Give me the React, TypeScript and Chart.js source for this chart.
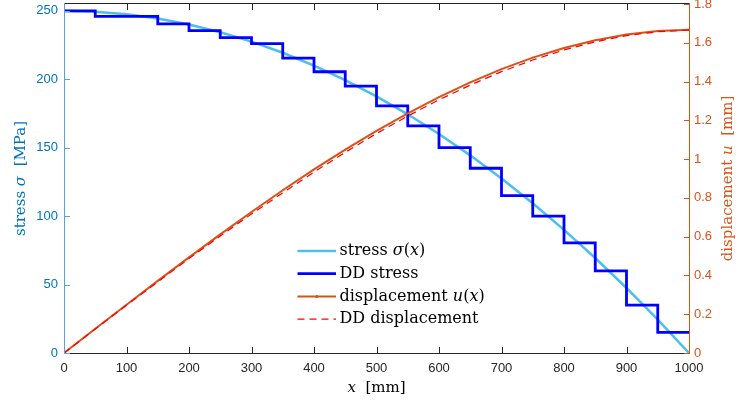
import React, { useEffect, useRef } from "react";
import { Chart, registerables } from "chart.js";

Chart.register(...registerables);

// ---------- data ----------
const xNodes = [0, 50, 100, 150, 200, 250, 300, 350, 400, 450, 500, 550, 600, 650, 700, 750, 800, 850, 900, 950, 1000];

// analytical stress sigma(x) [MPa]
const stressCurve = [250, 249.4, 247.5, 244.4, 240, 234.4, 227.5, 219.4, 210, 199.4, 187.5, 174.4, 160, 144.4, 127.5, 109.4, 90, 69.4, 47.5, 24.4, 0];

// data-driven (DD) stress, one value per element starting at each node (last repeats)
const ddStress = [250, 246, 246, 240.5, 235.5, 230.5, 226, 215.5, 205.5, 195, 180.5, 166, 150, 135, 115, 100, 80.5, 60, 35, 15, 15];

// displacement u(x) [mm]
const displacement = [0, 0.1249, 0.2492, 0.3722, 0.4933, 0.612, 0.7275, 0.8393, 0.9467, 1.0491, 1.1458, 1.2364, 1.32, 1.3962, 1.4642, 1.5234, 1.5733, 1.6133, 1.6425, 1.6604, 1.6667];

// DD displacement [mm]
const ddDisplacement = [0, 0.1235, 0.246, 0.367, 0.487, 0.603, 0.717, 0.826, 0.933, 1.035, 1.132, 1.222, 1.306, 1.382, 1.451, 1.511, 1.563, 1.605, 1.637, 1.657, 1.665];

const xTicks = [0, 100, 200, 300, 400, 500, 600, 700, 800, 900, 1000];
const stressTicks = [0, 50, 100, 150, 200, 250];
const dispTicks = [0, 0.2, 0.4, 0.6, 0.8, 1, 1.2, 1.4, 1.6, 1.8];

type Seg = [string, boolean];
const legendLabels: Seg[][] = [
  [["stress ", false], ["σ", true], ["(", false], ["x", true], [")", false]],
  [["DD stress", false]],
  [["displacement ", false], ["u", true], ["(", false], ["x", true], [")", false]],
  [["DD displacement", false]],
];
const leftTitle: Seg[] = [["stress ", false], ["σ", true], ["  [MPa]", false]];
const rightTitle: Seg[] = [["displacement ", false], ["u", true], ["  [mm]", false]];
const xTitle: Seg[] = [["x", true], ["  [mm]", false]];

// ---------- styles ----------
const BLUE_AXIS = "#0072BD";
const BLUE_AXIS_LINE = "#5aa3d8";
const ORANGE_AXIS = "#D95319";
const DARK = "#262626";
const SERIF = '"DejaVu Serif", "Liberation Serif", serif';
const SANS = '"Liberation Sans", Arial, sans-serif';
const TICK = 6;

function segFont(italic: boolean, size: number) {
  return `${italic ? "italic " : ""}${size}px ${SERIF}`;
}

function richWidth(ctx: CanvasRenderingContext2D, segs: Seg[], size: number) {
  let w = 0;
  for (const [t, it] of segs) {
    ctx.font = segFont(it, size);
    w += ctx.measureText(t).width;
  }
  return w;
}

function drawRich(ctx: CanvasRenderingContext2D, segs: Seg[], x: number, y: number, size: number, align: "left" | "center") {
  let cx = align === "center" ? x - richWidth(ctx, segs, size) / 2 : x;
  ctx.textAlign = "left";
  ctx.textBaseline = "middle";
  for (const [t, it] of segs) {
    ctx.font = segFont(it, size);
    ctx.fillText(t, cx, y);
    cx += ctx.measureText(t).width;
  }
}

const axesPlugin = {
  id: "matlabAxes",
  afterDraw(chart: any) {
    const { ctx, chartArea: a, scales } = chart;
    const sx = scales.x, yl = scales.y, yr = scales.y1;
    ctx.save();
    ctx.lineWidth = 1;
    ctx.setLineDash([]);

    // x ticks (bottom and top, inward) and horizontal box lines
    ctx.strokeStyle = DARK;
    ctx.beginPath();
    for (const v of xTicks) {
      const px = Math.round(sx.getPixelForValue(v)) + 0.5;
      ctx.moveTo(px, a.bottom);
      ctx.lineTo(px, a.bottom - TICK);
      ctx.moveTo(px, a.top);
      ctx.lineTo(px, a.top + TICK);
    }
    ctx.moveTo(a.left, a.bottom + 0.5);
    ctx.lineTo(a.right + 1, a.bottom + 0.5);
    ctx.moveTo(a.left, a.top - 0.5);
    ctx.lineTo(a.right + 1, a.top - 0.5);
    ctx.stroke();

    // left axis
    ctx.strokeStyle = BLUE_AXIS_LINE;
    ctx.beginPath();
    ctx.moveTo(a.left + 0.5, a.top - 1);
    ctx.lineTo(a.left + 0.5, a.bottom + 1);
    for (const v of stressTicks) {
      const py = Math.round(yl.getPixelForValue(v)) + 0.5;
      ctx.moveTo(a.left, py);
      ctx.lineTo(a.left + TICK, py);
    }
    ctx.stroke();

    // right axis
    ctx.strokeStyle = ORANGE_AXIS;
    ctx.beginPath();
    ctx.moveTo(a.right + 0.5, a.top - 1);
    ctx.lineTo(a.right + 0.5, a.bottom + 1);
    for (const v of dispTicks) {
      const py = Math.round(yr.getPixelForValue(v)) + 0.5;
      ctx.moveTo(a.right + 1, py);
      ctx.lineTo(a.right + 1 - TICK, py);
    }
    ctx.stroke();

    // axis titles
    const midY = (a.top + a.bottom) / 2;
    ctx.fillStyle = BLUE_AXIS;
    ctx.save();
    ctx.translate(21, midY);
    ctx.rotate(-Math.PI / 2);
    drawRich(ctx, leftTitle, 0, 0, 15, "center");
    ctx.restore();

    ctx.fillStyle = ORANGE_AXIS;
    ctx.save();
    ctx.translate(728, midY);
    ctx.rotate(-Math.PI / 2);
    drawRich(ctx, rightTitle, 0, 0, 15, "center");
    ctx.restore();

    ctx.fillStyle = "#000";
    drawRich(ctx, xTitle, (a.left + a.right) / 2, 388, 15, "center");

    // legend (inside the axes, no box)
    const lx0 = 297.5, lx1 = 336, tx = 339.5, ly0 = 251, dy = 22.7;
    chart.data.datasets.forEach((ds: any, i: number) => {
      const y = ly0 + i * dy;
      ctx.save();
      ctx.strokeStyle = ds.borderColor;
      ctx.lineWidth = ds.borderWidth;
      ctx.setLineDash(ds.borderDash || []);
      ctx.beginPath();
      ctx.moveTo(lx0, y);
      ctx.lineTo(lx1, y);
      ctx.stroke();
      if (ds.pointRadius > 0) {
        ctx.fillStyle = ds.borderColor;
        ctx.beginPath();
        ctx.arc((lx0 + lx1) / 2, y, 1.5, 0, Math.PI * 2);
        ctx.fill();
      }
      ctx.restore();
      ctx.fillStyle = "#000";
      drawRich(ctx, legendLabels[i], tx, y, 16, "left");
    });

    ctx.restore();
  },
};

export default function App() {
  const ref = useRef<HTMLCanvasElement>(null);

  useEffect(() => {
    document.body.style.margin = "0";
    const canvas = ref.current!;
    const pts = (ys: number[]) => xNodes.map((x, i) => ({ x, y: ys[i] }));

    const chart = new Chart(canvas, {
      type: "line",
      data: {
        datasets: [
          {
            label: "stress σ(x)",
            data: pts(stressCurve),
            borderColor: "#4DBEEE",
            borderWidth: 2.5,
            pointRadius: 0,
            yAxisID: "y",
            order: 4,
          },
          {
            label: "DD stress",
            data: pts(ddStress),
            borderColor: "#0000FF",
            borderWidth: 2.8,
            pointRadius: 0,
            stepped: "before",
            borderJoinStyle: "miter",
            borderCapStyle: "butt",
            yAxisID: "y",
            order: 3,
          },
          {
            label: "displacement u(x)",
            data: pts(displacement),
            borderColor: "#D95319",
            borderWidth: 2,
            pointRadius: 0.8,
            pointBorderWidth: 0,
            pointBackgroundColor: "#D95319",
            yAxisID: "y1",
            order: 2,
          },
          {
            label: "DD displacement",
            data: pts(ddDisplacement),
            borderColor: "#FF0000",
            borderWidth: 1.2,
            borderDash: [7, 5],
            pointRadius: 0,
            yAxisID: "y1",
            order: 1,
          },
        ] as any,
      },
      options: {
        responsive: false,
        animation: false,
        devicePixelRatio: 1,
        layout: { padding: { top: 4, left: 0, right: 0, bottom: 0 } },
        plugins: { legend: { display: false }, tooltip: { enabled: false }, title: { display: false } },
        elements: { line: { tension: 0 } },
        scales: {
          x: {
            type: "linear",
            position: "bottom",
            min: 0,
            max: 1000,
            grid: { display: false, drawTicks: false },
            border: { display: false },
            afterBuildTicks: (s: any) => {
              s.ticks = xTicks.map((v) => ({ value: v }));
            },
            afterFit: (s: any) => {
              s.height = 50;
              s.paddingLeft = 0;
              s.paddingRight = 0;
            },
            ticks: {
              font: { family: SANS, size: 13 },
              color: DARK,
              padding: 8,
              maxRotation: 0,
              autoSkip: false,
              callback: (v: any) => String(v),
            },
          },
          y: {
            type: "linear",
            position: "left",
            min: 0,
            max: 255,
            grid: { display: false, drawTicks: false },
            border: { display: false },
            afterBuildTicks: (s: any) => {
              s.ticks = stressTicks.map((v) => ({ value: v }));
            },
            afterFit: (s: any) => {
              s.width = 64;
              s.paddingTop = 0;
              s.paddingBottom = 0;
            },
            ticks: {
              font: { family: SANS, size: 13 },
              color: BLUE_AXIS,
              padding: 6,
              autoSkip: false,
              callback: (v: any) => String(v),
            },
          },
          y1: {
            type: "linear",
            position: "right",
            min: 0,
            max: 1.8,
            grid: { display: false, drawTicks: false },
            border: { display: false },
            afterBuildTicks: (s: any) => {
              s.ticks = dispTicks.map((v) => ({ value: v }));
            },
            afterFit: (s: any) => {
              s.width = 51;
              s.paddingTop = 0;
              s.paddingBottom = 0;
            },
            ticks: {
              font: { family: SANS, size: 13 },
              color: ORANGE_AXIS,
              padding: 5,
              autoSkip: false,
              callback: (v: any) => String(v),
            },
          },
        },
      } as any,
      plugins: [axesPlugin],
    });

    return () => chart.destroy();
  }, []);

  return (
    <div style={{ width: 740, height: 403 }}>
      <canvas ref={ref} width={740} height={403} style={{ display: "block", width: 740, height: 403 }} />
    </div>
  );
}
